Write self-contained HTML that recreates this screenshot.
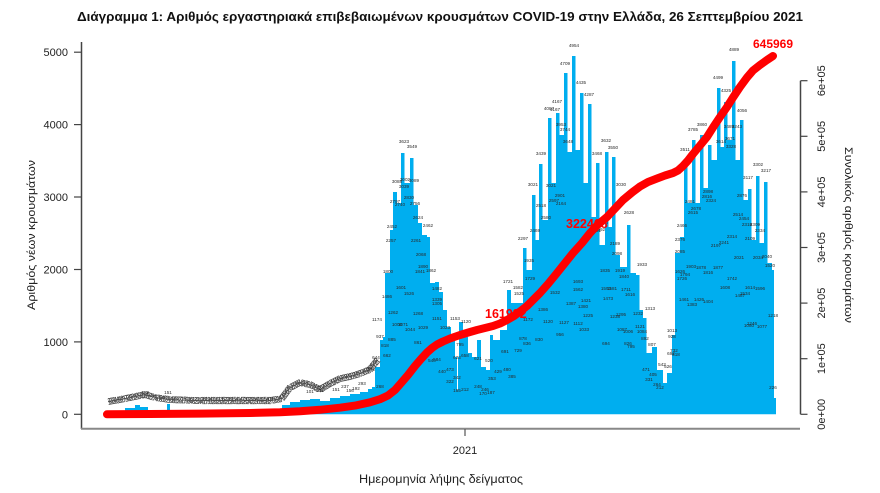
<!DOCTYPE html>
<html><head><meta charset="utf-8">
<style>
html,body{margin:0;padding:0;background:#fff;}
svg{display:block;}
text{font-family:"Liberation Sans","DejaVu Sans",sans-serif;}
.lb text{font-size:4.6px;fill:#2a2a2a;text-anchor:middle;}
</style></head>
<body>
<svg width="880" height="493" viewBox="0 0 880 493" xmlns="http://www.w3.org/2000/svg">
<rect width="880" height="493" fill="#fff"/>

<!-- Title -->
<text x="77" y="21" font-size="12.5" font-weight="bold" fill="#111" textLength="726" lengthAdjust="spacingAndGlyphs">Διάγραμμα 1: Αριθμός εργαστηριακά επιβεβαιωμένων κρουσμάτων COVID-19 στην Ελλάδα, 26 Σεπτεμβρίου 2021</text>

<!-- Bars (daily new cases) -->
<path fill="#00AEEF" d="M107,414.3
V413 H125 V408 H135 V405 H140 V407 H148 V412 H152 V412.5 H167 V404 H170 V412.5 H282
V405 H290 V402 H300 V400 H310 V399 H320 V401 H330 V398 H340 V396 H350 V394 H360 V392 H368 V389 H372 V387 H375
V367 H380 V340 H383 V337 H385 V273 H390 V230 H393 V192 H397 V203 H401 V153 H404.5 V183 H410 V158 H413.5
V205 H418 V223 H422 V235 H427 V237 H430 V283 H435 V282 H439 V292 H443 V310 H447 V327 H451 V337 H455 V357 H457
V390 H458 V357 H459 V322 H463 V337 H468 V353 H472 V357 H477 V340 H481 V367 H486 V370 H490 V335 H493 V340 H500
V330 H507 V290 H511 V303 H523 V248 H526.5 V270 H532 V195 H535.5 V240 H539 V164 H542.5 V220 H548 V118 H551.5
V183 H556 V113 H559.5 V135 H564 V73 H567.5 V152 H572 V56 H575.5 V150 H580 V93 H583.5 V183 H588 V104 H591.5
V217 H596 V163 H599.5 V245 H605 V152 H608.5 V227 H612 V157 H615.5 V255 H620 V267 H627 V225 H630.5 V273 H636
V275 H639.5 V310 H643 V318 H646.5 V353 H652 V347 H657 V370 H663 V383 H667 V373 H672 V335 H675 V253 H680 V237 H684
V167 H687.5 V203 H692 V140 H695.5 V203 H700 V135 H703.5 V188 H708 V145 H711.5 V160 H717 V88 H720.5 V147 H724
V102 H727.5 V140 H732 V61 H735.5 V160 H740 V120 H743.5 V200 H748 V189 H751.5 V240 H756 V176 H759.5 V243 H764
V182 H767.5 V263 H772 V270 H774 V398 H776 V414.3 Z"/>

<!-- early label band -->
<defs>
<path id="band" d="M108,402 L120,400 L135,397 L145,395 L155,398 L170,400 L200,401 L240,401 L270,401 L282,399 L290,388 L300,383 L310,385 L320,390 L330,384 L340,379 L350,377 L360,374 L370,370 L378,360"/>
</defs>
<text font-size="5.2" fill="#222" stroke="#444" stroke-width="0.35" letter-spacing="-0.7"><textPath href="#band">2231418172624303335284139463143527150161231281941161352281541473029341815403521473524363239281815343025203130293329262335374239262922192027324135363428324945596173648092114128139166157148171185197206212231242258</textPath></text>
<text font-size="5.2" fill="#333" stroke="#555" stroke-width="0.3" letter-spacing="-0.7" dy="2.8"><textPath href="#band">1826331739202534283127405022193129173346214417332923262128311825242230352827293318232031293534303342342819202429313130323735382630214050626068899013312513817918816923725620720119919123726329</textPath></text>

<!-- small value labels -->
<g class="lb">
<text x="404" y="143">3623</text><text x="412" y="148">3549</text><text x="397" y="183">3088</text><text x="405" y="181">3002</text>
<text x="414" y="182">3089</text><text x="404" y="188">3039</text><text x="395" y="203">2797</text><text x="400" y="206">2740</text>
<text x="409" y="199">2830</text><text x="415" y="205">2756</text><text x="418" y="219">2624</text><text x="392" y="228">2452</text>
<text x="428" y="227">2462</text><text x="416" y="242">2261</text><text x="391" y="242">2257</text><text x="421" y="256">2068</text>
<text x="423" y="268">1890</text><text x="420" y="273">1841</text><text x="431" y="272">1862</text><text x="388" y="273">1800</text>
<text x="401" y="289">1601</text><text x="409" y="295">1526</text><text x="387" y="298">1486</text><text x="437" y="290">1482</text>
<text x="437" y="301">1339</text><text x="437" y="305">1305</text><text x="393" y="314">1262</text><text x="418" y="315">1268</text>
<text x="437" y="320">1151</text><text x="377" y="321">1174</text><text x="455" y="320">1153</text><text x="466" y="323">1120</text>
<text x="397" y="326">1000</text><text x="403" y="326">1071</text><text x="410" y="331">1044</text><text x="423" y="329">1029</text>
<text x="445" y="329">1023</text><text x="380" y="338">937</text><text x="392" y="341">885</text><text x="418" y="344">861</text>
<text x="385" y="347">818</text><text x="387" y="357">662</text><text x="460" y="346">795</text><text x="457" y="359">623</text>
<text x="465" y="357">658</text><text x="432" y="362">540</text><text x="437" y="361">584</text><text x="442" y="373">440</text>
<text x="450" y="371">473</text><text x="450" y="383">322</text><text x="457" y="379">342</text><text x="457" y="392">185</text>
<text x="465" y="391">212</text><text x="478" y="388">248</text><text x="485" y="391">246</text><text x="483" y="395">170</text>
<text x="491" y="394">187</text><text x="478" y="360">621</text><text x="489" y="362">520</text><text x="376" y="359">644</text>
<text x="371" y="371">474</text><text x="380" y="388">268</text><text x="362" y="385">293</text>
<text x="345" y="388">237</text><text x="350" y="392">156</text><text x="356" y="390">192</text><text x="336" y="391">151</text>
<text x="320" y="392">131</text><text x="310" y="393">101</text><text x="145" y="394">157</text><text x="168" y="394">151</text>

<text x="574" y="47">4954</text><text x="565" y="65">4709</text><text x="581" y="84">4435</text><text x="589" y="96">4287</text>
<text x="557" y="103">4167</text><text x="549" y="110">4087</text><text x="561" y="126">3953</text><text x="565" y="131">3744</text>
<text x="568" y="143">3648</text><text x="541" y="155">3439</text><text x="597" y="155">3468</text><text x="606" y="142">3632</text>
<text x="613" y="149">3550</text><text x="533" y="186">3021</text><text x="621" y="186">3030</text><text x="629" y="214">2628</text>
<text x="551" y="187">3021</text><text x="560" y="197">2901</text><text x="561" y="205">2164</text><text x="554" y="202">2597</text>
<text x="541" y="207">2518</text><text x="546" y="219">2580</text><text x="523" y="240">2297</text><text x="535" y="232">2469</text>
<text x="529" y="262">1935</text><text x="530" y="280">1729</text><text x="508" y="283">1721</text><text x="642" y="266">1933</text>
<text x="518" y="289">1582</text><text x="519" y="295">1525</text><text x="555" y="294">1532</text><text x="543" y="311">1386</text>
<text x="571" y="305">1387</text><text x="578" y="283">1693</text><text x="578" y="291">1562</text><text x="586" y="302">1421</text>
<text x="583" y="308">1380</text><text x="588" y="317">1225</text><text x="528" y="321">1172</text><text x="548" y="323">1120</text>
<text x="564" y="324">1127</text><text x="578" y="325">1112</text><text x="584" y="331">1033</text><text x="560" y="336">956</text>
<text x="523" y="340">878</text><text x="527" y="345">836</text><text x="539" y="341">830</text><text x="606" y="345">694</text>
<text x="628" y="345">826</text><text x="631" y="348">795</text><text x="505" y="353">691</text><text x="518" y="352">729</text>
<text x="507" y="371">480</text><text x="498" y="373">429</text><text x="512" y="378">385</text><text x="492" y="380">353</text>
<text x="650" y="310">1313</text><text x="638" y="315">1232</text><text x="640" y="328">1121</text><text x="642" y="333">1084</text>
<text x="645" y="340">892</text><text x="652" y="346">807</text><text x="615" y="245">2189</text><text x="617" y="255">2098</text>
<text x="620" y="272">1919</text><text x="624" y="278">1840</text><text x="626" y="291">1711</text><text x="630" y="296">1616</text>
<text x="605" y="272">1835</text><text x="606" y="290">1593</text><text x="612" y="290">1581</text><text x="608" y="300">1473</text>
<text x="615" y="318">1238</text><text x="621" y="316">1295</text><text x="622" y="331">1087</text><text x="628" y="333">1006</text>
<text x="603" y="224">2378</text><text x="600" y="231">2392</text><text x="555" y="111">4167</text><text x="596" y="232">2561</text>

<text x="734" y="51">4889</text><text x="718" y="79">4499</text><text x="726" y="92">4325</text><text x="742" y="112">4056</text>
<text x="702" y="126">3860</text><text x="693" y="131">3785</text><text x="685" y="151">3511</text><text x="758" y="166">3302</text>
<text x="766" y="172">3217</text><text x="748" y="179">3117</text><text x="730" y="140">3671</text><text x="721" y="143">3614</text>
<text x="731" y="148">3328</text><text x="742" y="197">2876</text><text x="690" y="203">2481</text><text x="696" y="210">2678</text>
<text x="693" y="214">2615</text><text x="708" y="193">2898</text><text x="707" y="198">2816</text><text x="711" y="202">2324</text>
<text x="682" y="227">2466</text><text x="680" y="241">2376</text><text x="732" y="238">2314</text><text x="724" y="244">2241</text>
<text x="716" y="247">2197</text><text x="739" y="259">2021</text><text x="758" y="259">2034</text><text x="767" y="258">2040</text>
<text x="770" y="267">1520</text><text x="680" y="253">2085</text><text x="691" y="268">1903</text><text x="701" y="269">1878</text>
<text x="708" y="274">1816</text><text x="718" y="269">1877</text><text x="732" y="280">1742</text><text x="725" y="289">1608</text>
<text x="750" y="289">1614</text><text x="760" y="290">1596</text><text x="745" y="295">1534</text><text x="740" y="297">1487</text>
<text x="684" y="301">1461</text><text x="692" y="306">1383</text><text x="699" y="301">1426</text><text x="708" y="303">1404</text>
<text x="752" y="325">1246</text><text x="773" y="317">1218</text><text x="749" y="327">1080</text><text x="762" y="328">1077</text>
<text x="773" y="389">226</text><text x="682" y="280">1726</text><text x="680" y="273">1626</text><text x="685" y="276">1794</text>
<text x="672" y="332">1013</text><text x="672" y="338">928</text><text x="674" y="352">732</text><text x="671" y="355">692</text>
<text x="676" y="356">618</text><text x="646" y="371">471</text><text x="662" y="366">543</text><text x="668" y="368">526</text>
<text x="649" y="381">331</text><text x="660" y="389">212</text><text x="657" y="386">264</text><text x="653" y="376">405</text>
<text x="747" y="226">2318</text><text x="755" y="226">2309</text><text x="760" y="232">2334</text><text x="750" y="240">2109</text>
<text x="738" y="216">2514</text><text x="744" y="220">2454</text><text x="729" y="128">3489</text><text x="737" y="128">3243</text>
</g>

<!-- red cumulative labels (under the line) -->
<text x="485" y="318" font-size="12.5" font-weight="bold" fill="#ff0000">161932</text>
<text x="566" y="228" font-size="12.5" font-weight="bold" fill="#ff0000">322468</text>
<text x="753" y="48" font-size="11.5" font-weight="bold" fill="#ff0000" textLength="40" lengthAdjust="spacingAndGlyphs">645969</text>

<!-- red cumulative line -->
<polyline fill="none" stroke="#ff0000" stroke-width="8" stroke-linecap="round" stroke-linejoin="round"
points="107,414.3 150,414 200,413.6 250,413 280,412.3 300,411.3 320,409.8 340,407.7 355,405.6 370,402.3 380,399.2 388,395.5 395,390 402,382 408,375 415,366 421,359 427,352.5 432,348 437,344.5 443,341.5 450,338.5 460,335 470,332 477,330 485,328 493,326 500,323.5 507,320 514,316 520,311.5 527,306 533,300 540,293 548,284 557,273 565,263 573,253 582,243 590,233 598,224.5 607,217 615,208.5 623,200 632,192.5 640,186.5 648,182 657,178.5 665,175.5 673,173 678,170.5 683,166 688,160.5 693,154 700,145.5 707,137 713,127.5 720,117 727,107 733,97.5 740,87 747,77.5 753,70.5 760,65 767,60 773,56"/>

<!-- Left axis -->
<line x1="81.5" y1="42" x2="81.5" y2="429" stroke="#444" stroke-width="1.5"/>
<g stroke="#444" stroke-width="1.2">
<line x1="74" y1="414.3" x2="81.5" y2="414.3"/>
<line x1="74" y1="341.9" x2="81.5" y2="341.9"/>
<line x1="74" y1="269.5" x2="81.5" y2="269.5"/>
<line x1="74" y1="197.0" x2="81.5" y2="197.0"/>
<line x1="74" y1="124.6" x2="81.5" y2="124.6"/>
<line x1="74" y1="52.2" x2="81.5" y2="52.2"/>
</g>
<g font-size="11" fill="#222" text-anchor="end">
<text x="68" y="418.3">0</text>
<text x="68" y="345.9">1000</text>
<text x="68" y="273.5">2000</text>
<text x="68" y="201">3000</text>
<text x="68" y="128.6">4000</text>
<text x="68" y="56.2">5000</text>
</g>
<text transform="translate(35,235) rotate(-90)" font-size="11" fill="#222" text-anchor="middle" textLength="150" lengthAdjust="spacingAndGlyphs">Αριθμός νέων κρουσμάτων</text>

<!-- Bottom axis -->
<line x1="81" y1="428.8" x2="800" y2="428.8" stroke="#888" stroke-width="2"/>
<line x1="465" y1="429" x2="465" y2="436" stroke="#555" stroke-width="1.2"/>
<text x="465" y="454" font-size="11" fill="#222" text-anchor="middle">2021</text>
<text x="441" y="483" font-size="11.5" fill="#222" text-anchor="middle" textLength="164" lengthAdjust="spacingAndGlyphs">Ημερομηνία λήψης δείγματος</text>

<!-- Right axis -->
<line x1="800.5" y1="80.7" x2="800.5" y2="414.3" stroke="#444" stroke-width="1.5"/>
<g stroke="#444" stroke-width="1.2">
<line x1="800.5" y1="414.3" x2="807.5" y2="414.3"/>
<line x1="800.5" y1="358.7" x2="807.5" y2="358.7"/>
<line x1="800.5" y1="303.1" x2="807.5" y2="303.1"/>
<line x1="800.5" y1="247.5" x2="807.5" y2="247.5"/>
<line x1="800.5" y1="191.9" x2="807.5" y2="191.9"/>
<line x1="800.5" y1="136.3" x2="807.5" y2="136.3"/>
<line x1="800.5" y1="80.7" x2="807.5" y2="80.7"/>
</g>
<g font-size="11" fill="#222" text-anchor="middle">
<text transform="translate(825,414.3) rotate(-90)">0e+00</text>
<text transform="translate(825,358.7) rotate(-90)">1e+05</text>
<text transform="translate(825,303.1) rotate(-90)">2e+05</text>
<text transform="translate(825,247.5) rotate(-90)">3e+05</text>
<text transform="translate(825,191.9) rotate(-90)">4e+05</text>
<text transform="translate(825,136.3) rotate(-90)">5e+05</text>
<text transform="translate(825,80.7) rotate(-90)">6e+05</text>
</g>
<text transform="translate(845,235) rotate(90)" font-size="11" fill="#222" text-anchor="middle" textLength="176" lengthAdjust="spacingAndGlyphs">Συνολικός αριθμός κρουσμάτων</text>
</svg>
</body></html>
